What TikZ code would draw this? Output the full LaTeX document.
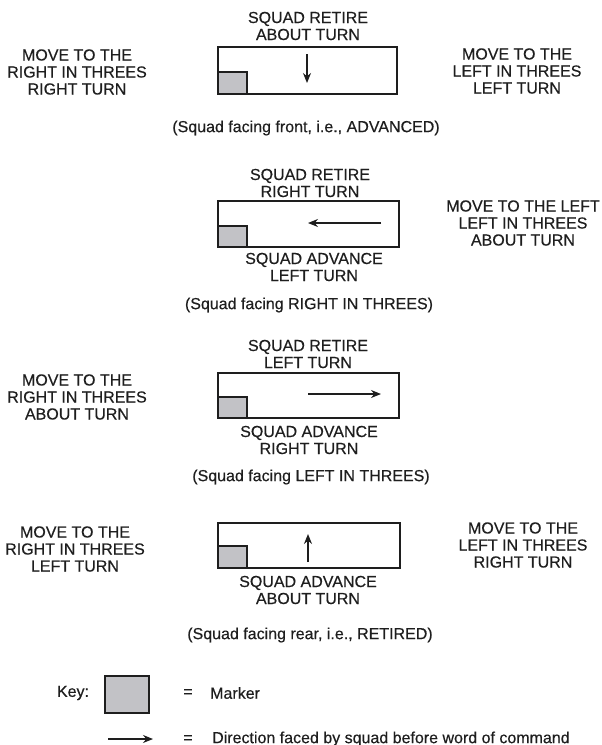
\documentclass[tikz,border=0pt]{standalone}
\usepackage{fontspec}
\setmainfont{Liberation Sans}[UprightFeatures={FakeBold=0.4}]
\usetikzlibrary{arrows.meta}
\definecolor{ink}{HTML}{1E1E1E}
\definecolor{markergray}{HTML}{C2C2C6}
\tikzset{
  lbl/.style={font=\fontsize{16}{17}\selectfont, align=center, inner sep=0pt, text=ink},
  squadbox/.style={draw=ink, line width=1.4pt, inner sep=0pt},
  markerbox/.style={draw=ink, line width=1.4pt, fill=markergray, inner sep=0pt},
  facing/.style={draw=ink, line width=1.2pt, -{Stealth[length=10pt,width=8pt]}},
}
\begin{document}
\begin{tikzpicture}[x=1pt,y=-1pt]
\useasboundingbox (0,0) rectangle (602,745);

% ---------- Panel 1 ----------
\node[lbl] (p1top) at (308,26) {SQUAD RETIRE\\ABOUT TURN};
\node[lbl] (p1left) at (77,72) {MOVE TO THE\\RIGHT IN THREES\\RIGHT TURN};
\node[lbl] (p1right) at (517,71) {MOVE TO THE\\LEFT IN THREES\\LEFT TURN};
\node[squadbox, minimum width=179pt, minimum height=47pt] (b1) at (307.5,70.5) {};
\node[markerbox, anchor=south west, minimum width=29pt, minimum height=22pt] (m1) at (b1.south west) {};
\coordinate (a1s) at (307,54);
\coordinate (a1e) at (307,83);
\draw[facing] (a1s) -- (a1e);
\node[lbl] (p1cap) at (306,128) {(Squad facing front, i.e., ADVANCED)};

% ---------- Panel 2 ----------
\node[lbl] (p2top) at (310,183) {SQUAD RETIRE\\RIGHT TURN};
\node[lbl] (p2right) at (523,223) {MOVE TO THE LEFT\\LEFT IN THREES\\ABOUT TURN};
\node[squadbox, minimum width=181pt, minimum height=46pt] (b2) at (308.5,224) {};
\node[markerbox, anchor=south west, minimum width=29pt, minimum height=21pt] (m2) at (b2.south west) {};
\coordinate (a2s) at (381,223);
\coordinate (a2e) at (308,223);
\draw[facing] (a2s) -- (a2e);
\node[lbl] (p2bot) at (314,267) {SQUAD ADVANCE\\LEFT TURN};
\node[lbl] (p2cap) at (309,305) {(Squad facing RIGHT IN THREES)};

% ---------- Panel 3 ----------
\node[lbl] (p3top) at (308,354) {SQUAD RETIRE\\LEFT TURN};
\node[lbl] (p3left) at (77,397) {MOVE TO THE\\RIGHT IN THREES\\ABOUT TURN};
\node[squadbox, minimum width=181pt, minimum height=45pt] (b3) at (308.5,395.5) {};
\node[markerbox, anchor=south west, minimum width=29pt, minimum height=21pt] (m3) at (b3.south west) {};
\coordinate (a3s) at (308,394);
\coordinate (a3e) at (381,394);
\draw[facing] (a3s) -- (a3e);
\node[lbl] (p3bot) at (309,440) {SQUAD ADVANCE\\RIGHT TURN};
\node[lbl] (p3cap) at (311,477) {(Squad facing LEFT IN THREES)};

% ---------- Panel 4 ----------
\node[lbl] (p4left) at (75,549) {MOVE TO THE\\RIGHT IN THREES\\LEFT TURN};
\node[lbl] (p4right) at (523,545) {MOVE TO THE\\LEFT IN THREES\\RIGHT TURN};
\node[squadbox, minimum width=182pt, minimum height=45pt] (b4) at (309,545.5) {};
\node[markerbox, anchor=south west, minimum width=29pt, minimum height=22pt] (m4) at (b4.south west) {};
\coordinate (a4s) at (308,562);
\coordinate (a4e) at (308,534);
\draw[facing] (a4s) -- (a4e);
\node[lbl] (p4bot) at (308,590) {SQUAD ADVANCE\\ABOUT TURN};
\node[lbl] (p4cap) at (310,635) {(Squad facing rear, i.e., RETIRED)};

% ---------- Key ----------
\node[lbl] (keylbl) at (73,693) {Key:};
\node[markerbox, minimum width=44pt, minimum height=37pt] (keymark) at (127,694.5) {};
\node[lbl] (eq1) at (188,693) {=};
\node[lbl, anchor=west] (keytxt1) at (210,693) {Marker};
\coordinate (ka) at (108,739);
\coordinate (kb) at (153,739);
\draw[facing] (ka) -- (kb);
\node[lbl] (eq2) at (188,739) {=};
\node[lbl, anchor=west] (keytxt2) at (212,739) {Direction faced by squad before word of command};
\end{tikzpicture}
\end{document}
